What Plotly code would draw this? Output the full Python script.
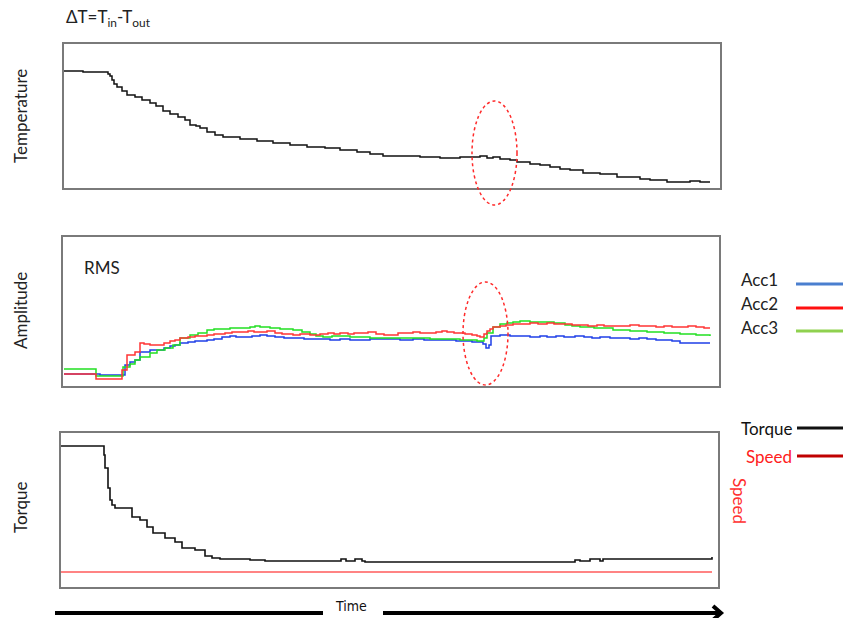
import plotly.graph_objects as go

W, H = 844, 618

# ---------------- data (time in samples, values in arbitrary units) ----------------
temp_t = [0,19,40,44,46,48,50,53,58,63,71,78,86,92,99,106,114,121,126,132,136,143,151,159,176,193,209,226,243,261,276,293,306,319,336,356,376,396,403,411,416,423,429,436,446,453,466,476,486,496,506,519,536,553,566,576,586,596,603,616,626,636,646]
temp_v = [117,116,116,114,112,108,104,101,97,93,91,88,85,82,77,74,71,68,63,62,60,56,53,51,49,47,45,43,41,40,38,36,34,32,32,31,30,31,31,31,32,30,31,29,28,26,24,23,21,19,18,15,14,11,11,9,8,8,6,6,7,6,6]

acc1_t = [0,31,36,56,61,66,71,76,86,93,100,106,111,116,124,131,137,143,150,158,166,172,181,188,196,203,211,220,229,240,256,266,276,286,296,306,316,326,336,349,360,372,383,392,401,408,413,419,422,425,427,436,446,456,466,476,483,492,500,511,520,528,536,546,556,566,575,583,592,601,608,616,630,646]
acc1_v = [12,12,11,11,21,24,26,34,36,36,38,40,41,43,44,45,45,46,47,49,50,49,49,50,51,50,49,48,48,47,47,46,47,46,46,47,47,47,46,47,46,46,46,45,45,44,44,42,38,41,50,51,50,50,49,50,49,50,49,50,49,48,49,48,48,47,48,47,46,46,45,43,43,43]

acc2_t = [0,31,32,56,58,63,71,76,80,86,93,100,106,111,116,124,131,137,143,150,156,161,168,176,184,190,196,203,211,218,229,236,246,256,264,270,276,284,290,296,304,312,320,326,334,340,349,356,366,372,378,383,390,396,401,408,413,416,420,423,426,429,436,442,449,456,466,474,483,490,501,508,516,524,533,540,556,566,575,583,592,600,608,616,624,632,640,646]
acc2_v = [12,12,7,7,16,31,34,43,42,41,41,43,45,46,48,49,50,50,51,52,52,53,54,54,55,54,54,55,53,52,51,52,51,52,53,52,53,52,53,53,54,52,51,51,53,53,54,53,53,54,55,54,53,53,52,51,50,49,52,55,57,59,60,61,62,62,63,62,63,62,62,61,61,60,61,60,60,61,60,60,59,60,59,59,60,59,58,58]

acc3_t = [0,31,32,56,59,66,71,76,86,93,101,109,116,126,134,143,150,156,166,176,186,191,196,206,216,229,238,246,252,259,268,276,286,296,306,316,330,349,366,383,396,406,413,416,420,423,429,436,443,449,456,466,474,483,490,501,508,516,530,549,566,583,600,616,632,646]
acc3_v = [17,17,10,10,19,22,26,29,33,36,38,41,48,51,53,56,57,57,58,58,59,60,59,58,57,56,54,52,50,49,50,50,49,49,48,48,48,48,47,47,46,46,45,45,48,53,59,62,63,64,65,64,64,64,63,61,60,59,58,56,55,54,53,52,51,50]

torque_t = [-3,39,40,41,43,44,46,48,51,66,68,76,83,89,101,111,118,131,141,148,156,186,201,274,277,282,286,291,298,301,506,511,516,521,526,536,539,648,648]
torque_v = [141,141,132,119,119,99,87,82,79,79,70,67,60,54,49,45,39,37,31,29,28,27,26,26,28,26,26,28,26,25,25,27,26,26,28,26,28,28,30]

speed_t = [-3, 648]
speed_v = [15, 15]

legend_top = ["Acc1", "Acc2", "Acc3"]
legend_bottom = ["Torque", "Speed"]

# ---------------- helpers ----------------
def px(x):
    return x / W

def py(y):
    return 1 - y / H

FONT = "Lato, 'Open Sans', sans-serif"
NARROW = "'Liberation Sans Narrow', 'DejaVu Sans Condensed', sans-serif"

fig = go.Figure()

fig.add_trace(go.Scatter(x=temp_t, y=temp_v, mode="lines", line=dict(color="#111111", width=1.5, shape="hv"),
                         xaxis="x", yaxis="y", showlegend=False))
fig.add_trace(go.Scatter(x=acc1_t, y=acc1_v, mode="lines", line=dict(color="#1f3fe8", width=1.5, shape="hv"),
                         xaxis="x2", yaxis="y2", showlegend=False))
fig.add_trace(go.Scatter(x=acc3_t, y=acc3_v, mode="lines", line=dict(color="#22e022", width=1.5, shape="hv"),
                         xaxis="x2", yaxis="y2", showlegend=False))
fig.add_trace(go.Scatter(x=acc2_t, y=acc2_v, mode="lines", line=dict(color="#ff3535", width=1.5, shape="hv"),
                         xaxis="x2", yaxis="y2", showlegend=False))
fig.add_trace(go.Scatter(x=speed_t, y=speed_v, mode="lines", line=dict(color="#ff5a5a", width=1.5),
                         xaxis="x3", yaxis="y3", showlegend=False))
fig.add_trace(go.Scatter(x=torque_t, y=torque_v, mode="lines", line=dict(color="#111111", width=1.6, shape="hv"),
                         xaxis="x3", yaxis="y3", showlegend=False))

axis_common = dict(showgrid=False, zeroline=False, showticklabels=False, ticks="",
                   showline=True, mirror=True, linecolor="#7a7a7a", linewidth=1.5, fixedrange=True)

layout = dict(
    width=W, height=H, autosize=False,
    margin=dict(l=0, r=0, t=0, b=0),
    paper_bgcolor="white", plot_bgcolor="white",
    showlegend=False,
    xaxis=dict(domain=[px(64), px(720)], range=[0, 656], anchor="y", **axis_common),
    yaxis=dict(domain=[py(188), py(44)], range=[0, 144], anchor="x", **axis_common),
    xaxis2=dict(domain=[px(63), px(719)], range=[-1, 655], anchor="y2", **axis_common),
    yaxis2=dict(domain=[py(386), py(237)], range=[0, 149], anchor="x2", **axis_common),
    xaxis3=dict(domain=[px(61), px(718)], range=[-3, 654], anchor="y3", **axis_common),
    yaxis3=dict(domain=[py(587), py(433)], range=[0, 154], anchor="x3", **axis_common),
)
fig.update_layout(**layout)

ann = []
def text(x, y, s, size=17, color="#222222", angle=0, xanchor="center", family=FONT):
    ann.append(dict(x=px(x), y=py(y), xref="paper", yref="paper", text=s, showarrow=False,
                    font=dict(family=family, size=size, color=color), textangle=angle,
                    xanchor=xanchor, yanchor="middle"))

text(64, 18, "ΔT=T<sub>in</sub>-T<sub>out</sub>", size=17, xanchor="left")
text(20, 116, "Temperature", angle=-90)
text(20, 311, "Amplitude", angle=-90)
text(20, 508, "Torque", angle=-90)
text(740, 501, "Speed", color="#ff3030", angle=90)
text(82, 267, "RMS", size=17, xanchor="left")
text(351, 606, "Time", size=14, color="#111111", family=NARROW)

leg_cols_top = ["#4a7fcf", "#ff1010", "#8fd14f"]
leg_y_top = [282, 306, 329]
shapes = []
for name, c, y in zip(legend_top, leg_cols_top, leg_y_top):
    text(739, y - 2, name, size=17, xanchor="left")
    shapes.append(dict(type="line", xref="paper", yref="paper", x0=px(796), x1=px(843), y0=py(y + 2), y1=py(y + 2),
                       line=dict(color=c, width=3)))
leg_cols_bot = ["#111111", "#c00000"]
leg_txt_bot = ["#111111", "#ff2020"]
leg_y_bot = [428, 456]
for name, c, tc, y in zip(legend_bottom, leg_cols_bot, leg_txt_bot, leg_y_bot):
    text(794, y, name, size=17, color=tc, xanchor="right")
    shapes.append(dict(type="line", xref="paper", yref="paper", x0=px(797), x1=px(843), y0=py(y), y1=py(y),
                       line=dict(color=c, width=3)))

# ellipses
for (x0, x1, y0, y1) in [(472, 517, 101, 205), (463, 508, 282, 385)]:
    shapes.append(dict(type="circle", xref="paper", yref="paper", x0=px(x0), x1=px(x1), y0=py(y1), y1=py(y0),
                       line=dict(color="#ff2a2a", width=1.5, dash="dot")))

# time arrow
shapes.append(dict(type="line", xref="paper", yref="paper", x0=px(55), x1=px(323), y0=py(613), y1=py(613),
                   line=dict(color="#000000", width=4)))
shapes.append(dict(type="line", xref="paper", yref="paper", x0=px(383), x1=px(719), y0=py(613), y1=py(613),
                   line=dict(color="#000000", width=4)))
shapes.append(dict(type="path", xref="paper", yref="paper",
                   path=f"M {px(713)} {py(606)} L {px(721)} {py(613)} L {px(713)} {py(620)}",
                   line=dict(color="#000000", width=4)))

fig.update_layout(annotations=ann, shapes=shapes)
fig.write_html("out.html")
